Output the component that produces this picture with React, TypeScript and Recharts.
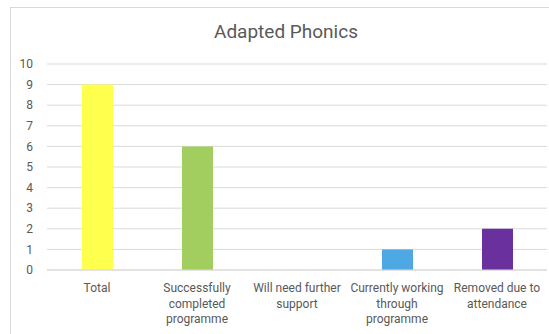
import React from "react";
import { BarChart, Bar, XAxis, YAxis, CartesianGrid, Cell } from "recharts";

// Programme outcome categories and pupil counts
const categories = [
  "Total",
  "Successfully completed programme",
  "Will need further support",
  "Currently working through programme",
  "Removed due to attendance",
];
const counts = [9, 6, 0, 1, 2];
const barColors = ["#ffff4d", "#a2cd5f", "#9e9e9e", "#4ea8e4", "#6a309e"];
// Wrapped axis label lines per category
const labelLines = [
  ["Total"],
  ["Successfully", "completed", "programme"],
  ["Will need further", "support"],
  ["Currently working", "through", "programme"],
  ["Removed due to", "attendance"],
];
const yTicks = [0, 1, 2, 3, 4, 5, 6, 7, 8, 9, 10];

const data = categories.map((name, i) => ({ name, value: counts[i] }));

const FONT = "Roboto, 'Liberation Sans', sans-serif";
const TEXT = "#595959";
const GRID = "#d9d9d9";

const CategoryTick = (props: any) => {
  const { x, y, payload } = props;
  const idx = categories.indexOf(payload.value);
  const lines = labelLines[idx] || [payload.value];
  return (
    <text
      x={x}
      y={y}
      textAnchor="middle"
      fill={TEXT}
      fontFamily={FONT}
      fontSize={12}
    >
      {lines.map((line, i) => (
        <tspan key={i} x={x} dy={i === 0 ? 14 : 15.5}>
          {line}
        </tspan>
      ))}
    </text>
  );
};

export default function App() {
  return (
    <div
      style={{
        position: "absolute",
        left: 0,
        top: 0,
        width: 549,
        height: 334,
        overflow: "hidden",
        background: "#ffffff",
      }}
    >
      <div
        style={{
          position: "absolute",
          left: 10,
          top: 7,
          width: 620,
          height: 420,
          border: `1px solid ${GRID}`,
          boxSizing: "border-box",
        }}
      />
      <div
        style={{
          position: "absolute",
          left: 0,
          top: 20,
          width: 572,
          textAlign: "center",
          fontFamily: FONT,
          fontSize: 19,
          color: TEXT,
          lineHeight: "24px",
        }}
      >
        Adapted Phonics
      </div>
      <div style={{ position: "absolute", left: 0, top: 0 }}>
        <BarChart
          width={549}
          height={334}
          data={data}
          margin={{ top: 64, right: 2, bottom: 0, left: 0 }}
          barSize={31}
        >
          <CartesianGrid vertical={false} stroke={GRID} strokeWidth={1} />
          <XAxis
            dataKey="name"
            interval={0}
            axisLine={{ stroke: GRID }}
            tickLine={false}
            tick={<CategoryTick />}
            height={64}
          />
          <YAxis
            width={47}
            domain={[0, 10]}
            ticks={yTicks}
            interval={0}
            axisLine={false}
            tickLine={false}
            tickMargin={8}
            tick={{ fill: TEXT, fontSize: 12, fontFamily: FONT }}
          />
          <Bar dataKey="value" isAnimationActive={false}>
            {data.map((d, i) => (
              <Cell key={d.name} fill={barColors[i]} />
            ))}
          </Bar>
        </BarChart>
      </div>
    </div>
  );
}
